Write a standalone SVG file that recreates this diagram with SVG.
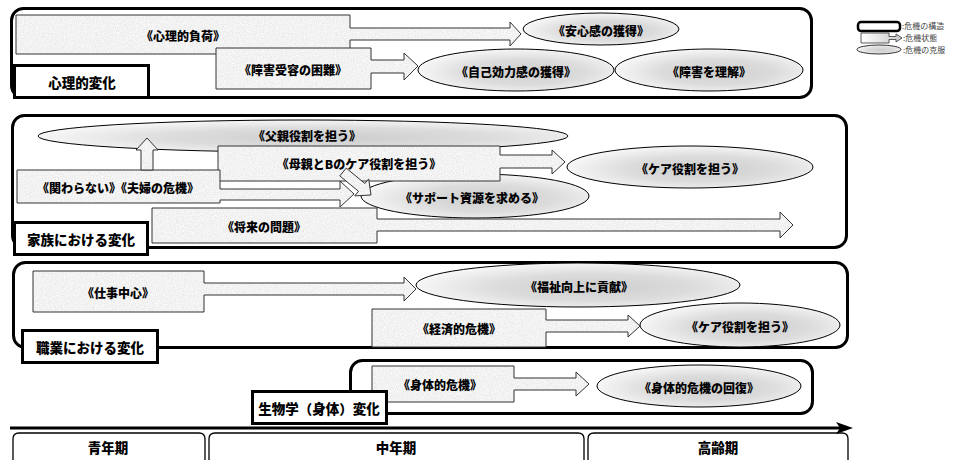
<svg xmlns="http://www.w3.org/2000/svg" width="958" height="460" viewBox="0 0 958 460">
<defs>
<filter id="noise" x="0" y="0" width="100%" height="100%">
<feTurbulence type="fractalNoise" baseFrequency="0.9" numOctaves="2" seed="3"/>
<feColorMatrix type="matrix" values="0.3 0 0 0 0.74  0.3 0 0 0 0.74  0.3 0 0 0 0.74  0 0 0 0 1"/>
</filter>
<pattern id="tex" patternUnits="userSpaceOnUse" width="240" height="240">
<rect width="240" height="240" filter="url(#noise)"/>
</pattern>
<radialGradient id="eg" cx="55%" cy="55%" r="55%">
<stop offset="0" stop-color="#cdcdcd"/>
<stop offset="0.55" stop-color="#dcdcdc"/>
<stop offset="1" stop-color="#f6f6f6"/>
</radialGradient>
<linearGradient id="lg" x1="0" y1="0" x2="1" y2="0">
<stop offset="0" stop-color="#ffffff"/>
<stop offset="1" stop-color="#c8c8c8"/>
</linearGradient>
</defs>
<style>
.sec{fill:#fff;stroke:#000;stroke-width:3}
.lab{fill:#fff;stroke:#000;stroke-width:3}
.ab{fill:url(#tex);stroke:#333;stroke-width:1}
.el{fill:url(#eg);stroke:#000;stroke-width:1}
.t{font-family:"Noto Sans CJK JP","Noto Sans CJK SC",sans-serif;font-weight:900;font-size:12px;fill:#000;text-anchor:middle;dominant-baseline:central}
.tl{font-family:"Noto Sans CJK JP","Noto Sans CJK SC",sans-serif;font-weight:900;font-size:13.5px;fill:#000;text-anchor:middle;dominant-baseline:central}
.lt{font-family:"Noto Sans CJK JP","Noto Sans CJK SC",sans-serif;font-size:8px;fill:#444}
.per{fill:none;stroke:#000;stroke-width:1.3}
</style>
<rect width="958" height="460" fill="#fff"/>

<!-- Section 1 -->
<g id="sec-psych">
<rect class="sec" x="11.5" y="8.5" width="800" height="89" rx="12"/>
</g>
<g id="n-psych-load">
<polygon class="ab" points="16,15 350,15 350,28 510,28 510,22 521,34 510,46 510,40 350,40 350,54 16,54"/>
<text class="t" x="183" y="35">《心理的負荷》</text>
</g>
<g id="n-relief">
<ellipse class="el" cx="601" cy="29" rx="78" ry="16"/>
<text class="t" x="601" y="30">《安心感の獲得》</text>
</g>
<g id="n-accept">
<polygon class="ab" points="216,48 371,48 371,60 404,60 404,53 418,66 404,80 404,73 371,73 371,89 216,89"/>
<text class="t" x="293" y="69">《障害受容の困難》</text>
</g>
<g id="n-efficacy">
<ellipse class="el" cx="516" cy="70" rx="98" ry="21"/>
<text class="t" x="516" y="71">《自己効力感の獲得》</text>
</g>
<g id="n-understand">
<ellipse class="el" cx="709" cy="70" rx="94" ry="21"/>
<text class="t" x="709" y="71">《障害を理解》</text>
</g>

<!-- Section 2 -->
<g id="sec-family">
<rect class="sec" x="12.5" y="115.5" width="834" height="132" rx="12"/>
</g>
<g id="n-father">
<ellipse class="el" cx="303" cy="136" rx="265" ry="16"/>
<text class="t" x="307" y="135">《父親役割を担う》</text>
</g>
<g id="n-care-f">
<ellipse class="el" cx="690" cy="167" rx="123" ry="21"/>
<text class="t" x="690" y="168">《ケア役割を担う》</text>
</g>
<g id="n-support">
<ellipse class="el" cx="475" cy="196" rx="114" ry="22"/>
<text class="t" x="472" y="197">《サポート資源を求める》</text>
</g>
<g id="n-mother">
<polygon class="ab" points="218,146 500,146 500,155 552,155 552,150 565,162 552,174 552,168 500,168 500,181 218,181"/>
<text class="t" x="359" y="163">《母親とBのケア役割を担う》</text>
</g>
<g id="n-couple">
<polygon class="ab" points="17,170 220,170 220,189 340,189 340,181 354,194 340,207 340,200 220,200 220,203 17,203"/>
<text class="t" x="118" y="187">《関わらない》《夫婦の危機》</text>
</g>
<g id="n-future">
<polygon class="ab" points="152,208 377,208 377,219 780,219 780,212 793,225 780,238 780,231 377,231 377,243 152,243"/>
<text class="t" x="264" y="226">《将来の問題》</text>
</g>

<!-- Section 3 -->
<g id="sec-job">
<rect class="sec" x="13.5" y="262.5" width="834" height="85" rx="12"/>
</g>
<g id="n-welfare">
<ellipse class="el" cx="578" cy="285" rx="162" ry="22"/>
<text class="t" x="579" y="286">《福祉向上に貢献》</text>
</g>
<g id="n-work">
<polygon class="ab" points="33,271 204,271 204,283 404,283 404,277 416,289 404,301 404,295 204,295 204,312 33,312"/>
<text class="t" x="118" y="292">《仕事中心》</text>
</g>
<g id="n-care-j">
<ellipse class="el" cx="740" cy="325" rx="100" ry="22"/>
<text class="t" x="740" y="326">《ケア役割を担う》</text>
</g>
<g id="n-econ">
<polygon class="ab" points="372,309 546,309 546,320 628,320 628,315 640,326 628,337 628,332 546,332 546,347 372,347"/>
<text class="t" x="459" y="328">《経済的危機》</text>
</g>

<!-- Section 4 -->
<g id="sec-bio">
<rect class="sec" x="350.5" y="360.5" width="462" height="53" rx="12"/>
</g>
<g id="n-body">
<polygon class="ab" points="372,366 514,366 514,378 576,378 576,372 589,384 576,396 576,390 514,390 514,402 372,402"/>
<text class="t" x="440" y="384">《身体的危機》</text>
</g>
<g id="n-recover">
<ellipse class="el" cx="699" cy="386" rx="102" ry="21"/>
<text class="t" x="699" y="387">《身体的危機の回復》</text>
</g>

<!-- Connectors -->
<g id="connectors">
<polygon class="ab" points="141,170 141,150 136,150 147,138 158,150 153,150 153,170"/>
<polygon class="ab" points="346.2,168.1 364.9,183.5 368.7,178.9 371,195 354.7,195.9 358.5,191.3 339.8,175.9"/>
<line x1="10" y1="428" x2="842" y2="428" stroke="#000" stroke-width="3"/>
<polygon points="836,422 853,428 836,434 840,428" fill="#000"/>
</g>

<!-- Labels -->
<g id="lab-psych">
<rect class="lab" x="14.5" y="65.5" width="134" height="32"/>
<text class="tl" x="82" y="82">心理的変化</text>
</g>
<g id="lab-family">
<rect class="lab" x="14.5" y="222.5" width="133" height="32"/>
<text class="tl" x="81" y="239">家族における変化</text>
</g>
<g id="lab-job">
<rect class="lab" x="22.5" y="330.5" width="135" height="32"/>
<text class="tl" x="90" y="347">職業における変化</text>
</g>
<g id="lab-bio">
<rect class="lab" x="252.5" y="391.5" width="134" height="32"/>
<text class="tl" x="319" y="408">生物学（身体）変化</text>
</g>

<!-- Periods -->
<g id="p-youth">
<path class="per" d="M13,462 V439 Q13,433 19,433 H199 Q205,433 205,439 V462"/>
<text class="tl" x="108" y="447">青年期</text>
</g>
<g id="p-middle">
<path class="per" d="M209,462 V439 Q209,433 215,433 H578 Q584,433 584,439 V462"/>
<text class="tl" x="396" y="447">中年期</text>
</g>
<g id="p-old">
<path class="per" d="M588,462 V439 Q588,433 594,433 H842 Q848,433 848,439 V462"/>
<text class="tl" x="718" y="447">高齢期</text>
</g>

<!-- Legend -->
<g id="legend">
<rect x="858" y="22" width="42" height="9" rx="3" fill="#fff" stroke="#000" stroke-width="2.5"/>
<text class="lt" x="902" y="29">:危機の構造</text>
<polygon points="861,33 889,33 889,36.5 896,36.5 896,34 902,38 896,42 896,39.5 889,39.5 889,43 861,43" fill="url(#lg)" stroke="#333" stroke-width="0.8"/>
<text class="lt" x="903" y="41">:危機状態</text>
<ellipse cx="879" cy="49.5" rx="22" ry="4.5" fill="url(#eg)" stroke="#000" stroke-width="0.8"/>
<text class="lt" x="903" y="53">:危機の克服</text>
</g>
</svg>
